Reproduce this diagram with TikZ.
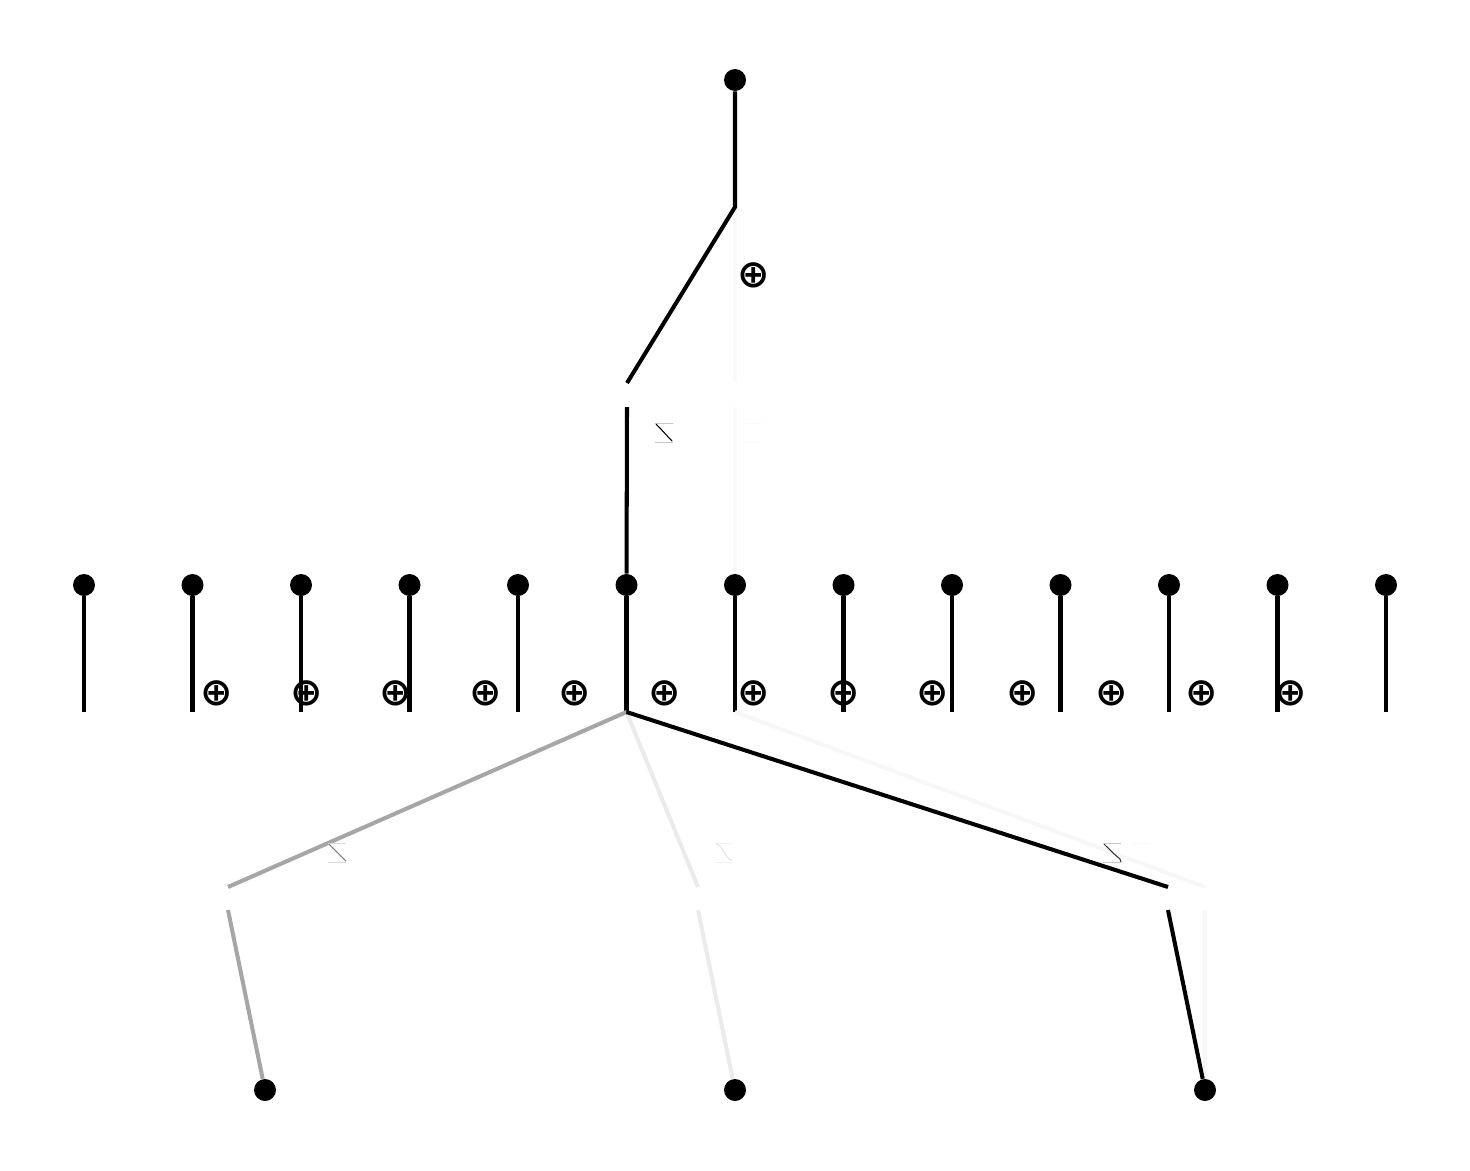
\documentclass[tikz,border=0pt]{standalone}
\usepackage{amsmath,amssymb}
\usepackage{fontspec}
\usepackage{tikz}
\usetikzlibrary{calc}
\newfontfamily\opfont{DejaVu Sans}
\newcommand{\actbox}[3]{%
  \draw[actbox, draw=black!#3] (#1,#2) -- ++(18,0) (#1,#2+19) -- ++(18,0);}
\tikzset{
  unit/.style={circle, fill=black, inner sep=0pt, minimum size=0.44cm},
  sumop/.style={inner sep=0pt, font=\opfont\bfseries\fontsize{22}{22}\selectfont},
  edg/.style={line width=2.3pt},
  actbox/.style={line width=0.5pt},
  actcrv/.style={line width=0.6pt},
}
\begin{document}
\begin{tikzpicture}[x=0.02cm,y=-0.02cm]
\useasboundingbox (0,0) rectangle (1470,1170);
% nodes
\node[unit] (out) at (735,80) {};
\coordinate (kout) at (735,207);
\foreach \i in {1,...,13} {
  \node[unit] (h\i) at ({84+108.5*(\i-1)},585) {};
  \coordinate (hb\i) at ({84+108.5*(\i-1)},712);
  \draw[edg] (h\i) -- (hb\i);
  \node[sumop] (p\i) at ({217+89.5*(\i-1)},693) {⊕};
}
\node[unit] (in1) at (265,1090) {};
\node[unit] (in2) at (735,1090) {};
\node[unit] (in3) at (1205,1090) {};
\node[sumop] (pout) at (754,275) {⊕};
% upper layer
\coordinate (g1t) at (627,383); \coordinate (g1b) at (627,407);
\coordinate (g2t) at (735,383); \coordinate (g2b) at (735,407);
\draw[edg, black!2] (h7) -- (g2b) (g2t) -- (kout);
\draw[edg] (h6) -- (g1b) (g1t) -- (kout) -- (out);
\actbox{655}{423}{22}
\draw[actcrv] (656,424) .. controls (663,431) and (667,436) .. (672,441);
\actbox{745}{423}{2}
% lower layer
\coordinate (a11t) at (228,887); \coordinate (a11b) at (228,910);
\coordinate (a21t) at (698,887); \coordinate (a21b) at (698,910);
\coordinate (a31t) at (1168,887); \coordinate (a31b) at (1168,910);
\coordinate (a32t) at (1205,887); \coordinate (a32b) at (1205,910);
\draw[edg, black!3] (in3) -- (a32b) (a32t) -- (hb7);
\draw[edg, black!8] (in2) -- (a21b) (a21t) -- (hb6);
\draw[edg, black!35] (in1) -- (a11b) (a11t) -- (hb6);
\draw[edg] (in3) -- (a31b) (a31t) -- (hb6);
\actbox{328}{843}{15}
\draw[actcrv, black!50] (329,844) .. controls (336,851) and (341,856) .. (346,861);
\actbox{715}{843}{5}
\draw[actcrv, black!10] (716,844) .. controls (724,846) and (722,855) .. (732,861);
\actbox{1103}{843}{22}
\draw[actcrv, black!80] (1104,844) .. controls (1111,851) and (1116,856) .. (1120,859) -- (1121,862);
\actbox{1132}{843}{3}
\end{tikzpicture}
\end{document}
